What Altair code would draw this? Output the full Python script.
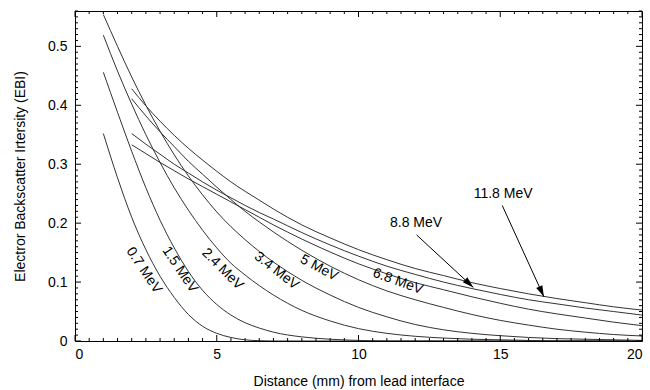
import altair as alt
import pandas as pd
import numpy as np

# ---- data ----
grid_a = [1, 1.5, 2, 2.5, 3, 3.5, 4, 4.5, 5, 5.5, 6, 6.5, 7, 8, 9, 10, 11, 12, 13, 14, 15, 16, 17, 18, 19, 20]
grid_b = [2, 2.5, 3, 3.5, 4, 4.5, 5, 5.5, 6, 6.5, 7, 8, 9, 10, 11, 12, 13, 14, 15, 16, 17, 18, 19, 20]

ebi_07 = [0.352, 0.277, 0.21, 0.155, 0.11, 0.074, 0.045, 0.025, 0.013, 0.006, 0.002, 0.0005, 0, 0, 0, 0, 0, 0, 0, 0, 0, 0, 0, 0, 0, 0]
ebi_15 = [0.456, 0.388, 0.322, 0.26, 0.205, 0.158, 0.118, 0.086, 0.062, 0.044, 0.031, 0.022, 0.015, 0.007, 0.003, 0.001, 0, 0, 0, 0, 0, 0, 0, 0, 0, 0]
ebi_24 = [0.519, 0.458, 0.402, 0.35, 0.303, 0.26, 0.222, 0.188, 0.158, 0.132, 0.112, 0.094, 0.078, 0.052, 0.034, 0.021, 0.013, 0.008, 0.005, 0.003, 0.002, 0.001, 0, 0, 0, 0]
ebi_34 = [0.554, 0.5, 0.448, 0.4, 0.356, 0.316, 0.28, 0.248, 0.219, 0.194, 0.172, 0.152, 0.134, 0.103, 0.078, 0.057, 0.041, 0.028, 0.019, 0.013, 0.009, 0.006, 0.004, 0.003, 0.002, 0.001]

ebi_50 = [0.411, 0.382, 0.355, 0.33, 0.305, 0.283, 0.261, 0.24, 0.22, 0.202, 0.185, 0.154, 0.127, 0.104, 0.085, 0.07, 0.057, 0.045, 0.035, 0.027, 0.02, 0.015, 0.011, 0.0085]
ebi_68 = [0.333, 0.318, 0.303, 0.289, 0.275, 0.262, 0.249, 0.236, 0.223, 0.21, 0.197, 0.173, 0.151, 0.131, 0.114, 0.099, 0.087, 0.075, 0.064, 0.054, 0.046, 0.039, 0.032, 0.026]
ebi_88 = [0.352, 0.334, 0.317, 0.300, 0.285, 0.270, 0.256, 0.243, 0.230, 0.218, 0.207, 0.184, 0.163, 0.144, 0.127, 0.113, 0.1, 0.089, 0.079, 0.07, 0.063, 0.056, 0.05, 0.044]
ebi_118 = [0.428, 0.399, 0.373, 0.349, 0.327, 0.307, 0.288, 0.27, 0.254, 0.239, 0.224, 0.197, 0.175, 0.155, 0.138, 0.123, 0.111, 0.099, 0.089, 0.08, 0.072, 0.065, 0.058, 0.0525]

series = [
    ("0.7", grid_a, ebi_07), ("1.5", grid_a, ebi_15), ("2.4", grid_a, ebi_24), ("3.4", grid_a, ebi_34),
    ("5", grid_b, ebi_50), ("6.8", grid_b, ebi_68), ("8.8", grid_b, ebi_88), ("11.8", grid_b, ebi_118),
]

label_text = ["0.7 MeV", "1.5 MeV", "2.4 MeV", "3.4 MeV", "5 MeV", "6.8 MeV", "8.8 MeV", "11.8 MeV"]
label_x = [2.43, 3.70, 5.20, 7.11, 8.61, 11.39, 12.03, 15.1]
label_y = [0.120, 0.121, 0.122, 0.119, 0.124, 0.101, 0.200, 0.249]
label_angle = [56, 56, 45, 38, 28, 20, 0, 0]

arrow_x0 = [12.05, 15.07]
arrow_y0 = [0.18, 0.23]
arrow_x1 = [14.05, 16.54]
arrow_y1 = [0.091, 0.075]
arrow_angle = [132.7, 155.5]

x_major = [0, 5, 10, 15, 20]
y_major = [0, 0.1, 0.2, 0.3, 0.4, 0.5]

# ---- tables ----
rows = []
for name, xs_, ys_ in series:
    for xv, yv in zip(xs_, ys_):
        rows.append({"x": xv, "y": yv, "s": name})
df = pd.DataFrame(rows)
lab_df = pd.DataFrame({"t": label_text, "x": label_x, "y": label_y, "a": label_angle})
arr_df = pd.DataFrame({"x0": arrow_x0, "y0": arrow_y0, "x1": arrow_x1, "y1": arrow_y1, "a": arrow_angle})

x_minor = [round(v, 2) for v in np.arange(0, 20.001, 0.5) if round(v, 2) not in x_major]
y_minor = [round(v, 3) for v in np.arange(0, 0.5601, 0.01) if round(v, 3) not in [round(m, 3) for m in y_major]]

W, H = 567, 330
FONT = "Liberation Sans"
xs = alt.Scale(domain=[0, 20], nice=False, zero=False)
ys = alt.Scale(domain=[0, 0.56], nice=False, zero=False)

x_axis = alt.Axis(values=x_major, ticks=False, domain=False, grid=False,
                  labelPadding=6, labelFontSize=14,
                  title="Distance (mm) from lead interface",
                  titleFontSize=14, titleX=W / 2, titleY=40, titleBaseline="middle")
y_axis = alt.Axis(values=y_major, format=".1~f", ticks=False, domain=False, grid=False,
                  labelPadding=8, labelFontSize=14,
                  title="Electror Backscatter Irtersity (EBI)",
                  titleFontSize=14, titleX=-55, titleY=H / 2, titleBaseline="middle")


def X(field):
    return alt.X(field, scale=xs, axis=x_axis)


def Y(field):
    return alt.Y(field, scale=ys, axis=y_axis)


curves = alt.Chart(df).mark_line(color="#333333", strokeWidth=1, interpolate="monotone", clip=True).encode(
    x=X("x:Q"), y=Y("y:Q"), detail="s:N",
)


def xticks(vals, length, top):
    d = pd.DataFrame({"v": vals})
    if top:
        enc = dict(y=alt.value(0), y2=alt.value(length))
    else:
        enc = dict(y=alt.value(H), y2=alt.value(H - length))
    return alt.Chart(d).mark_rule(color="black", strokeWidth=1).encode(x=X("v:Q"), **enc)


def yticks(vals, length, right):
    d = pd.DataFrame({"v": vals})
    if right:
        enc = dict(x=alt.value(W), x2=alt.value(W - length))
    else:
        enc = dict(x=alt.value(0), x2=alt.value(length))
    return alt.Chart(d).mark_rule(color="black", strokeWidth=1).encode(y=Y("v:Q"), **enc)


ticks = [
    xticks(x_minor, 3, False), xticks(x_major, 6, False),
    xticks(x_minor, 3, True), xticks(x_major, 6, True),
    yticks(y_minor, 3, False), yticks(y_major, 6, False),
    yticks(y_minor, 3, True), yticks(y_major, 6, True),
]

labels = alt.Chart(lab_df).mark_text(font=FONT, fontSize=14, color="black", align="center", baseline="middle").encode(
    x=X("x:Q"), y=Y("y:Q"), text="t:N", angle=alt.Angle("a:Q", scale=None),
)

shafts = alt.Chart(arr_df).mark_rule(color="black", strokeWidth=1).encode(
    x=X("x0:Q"), y=Y("y0:Q"), x2="x1:Q", y2="y1:Q",
)

heads = alt.Chart(arr_df).mark_point(shape="M0,0L-0.3,1L0.3,1Z", filled=True, color="black",
                                      opacity=1, size=500, strokeWidth=0).encode(
    x=X("x1:Q"), y=Y("y1:Q"), angle=alt.Angle("a:Q", scale=None),
)

chart = alt.layer(curves, *ticks, labels, shafts, heads).properties(
    width=W, height=H,
    padding={"left": 75, "top": 11, "right": 8, "bottom": 49},
    autosize=alt.AutoSizeParams(type="none"),
    background="white",
).configure_view(stroke="black", strokeWidth=1).configure_axis(
    labelFont=FONT, titleFont=FONT, labelColor="black", titleColor="black", titleFontWeight="normal",
)

chart.save("out.html", embed_options={"renderer": "svg", "actions": False})
